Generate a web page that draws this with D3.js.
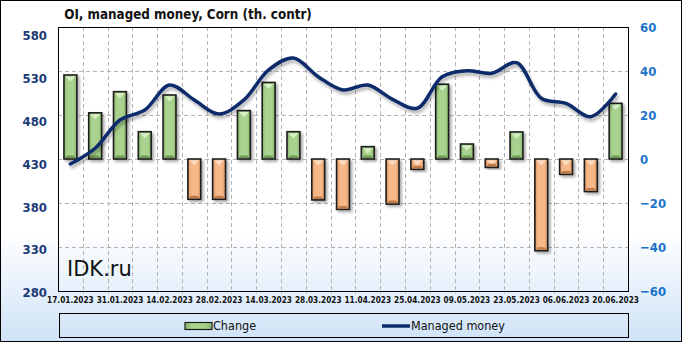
<!DOCTYPE html>
<html><head><meta charset="utf-8">
<script src="https://cdn.jsdelivr.net/npm/d3@7"></script>
<style>
html,body{margin:0;padding:0;background:#fff;}
svg{display:block;}
</style></head>
<body>
<script>
// ---- data ----
const dates = ["17.01.2023","24.01.2023","31.01.2023","07.02.2023","14.02.2023","21.02.2023","28.02.2023","07.03.2023","14.03.2023","21.03.2023","28.03.2023","04.04.2023","11.04.2023","18.04.2023","25.04.2023","02.05.2023","09.05.2023","16.05.2023","23.05.2023","30.05.2023","06.06.2023","13.06.2023","20.06.2023"];
const change = [38.2,21.0,30.6,12.4,29.1,-18.3,-18.3,22.0,34.8,12.4,-18.6,-22.9,5.6,-20.5,-4.7,34.0,6.8,-3.8,12.3,-41.7,-7.0,-14.8,25.3];
const managedMoney = [430.1,448.5,481.5,493.2,522.4,504.9,488.5,504.9,540,554,532.1,516.6,522.4,505.7,495.2,532.1,539.1,536.1,548.5,506.9,501,485.4,511.9];
const leftTicks = [280,330,380,430,480,530,580];
const rightTicks = [-60,-40,-20,0,20,40,60];
const title = "OI, managed money, Corn (th. contr)";
const seriesNames = ["Change","Managed money"];

const W = 682, H = 342;
const P = {l:58, r:628, t:27, b:291};
const FONT = "Tahoma, 'DejaVu Sans Condensed', 'DejaVu Sans', sans-serif";

const svg = d3.select("body").append("svg").attr("width",W).attr("height",H);
const defs = svg.append("defs");

const bg = defs.append("linearGradient").attr("id","bg").attr("x1",0).attr("y1",0).attr("x2",0).attr("y2",1);
bg.append("stop").attr("offset","0").attr("stop-color","#ffffff");
bg.append("stop").attr("offset","0.68").attr("stop-color","#ffffff");
bg.append("stop").attr("offset","1").attr("stop-color","#cfe3f7");

function hgrad(id, edge, mid){
  const g = defs.append("linearGradient").attr("id",id).attr("x1",0).attr("y1",0).attr("x2",1).attr("y2",0);
  g.append("stop").attr("offset","0").attr("stop-color",edge);
  g.append("stop").attr("offset","0.25").attr("stop-color",mid);
  g.append("stop").attr("offset","0.75").attr("stop-color",mid);
  g.append("stop").attr("offset","1").attr("stop-color",edge);
}
hgrad("gGreen","#86b46a","#a9d28f");
hgrad("gOrange","#d8925f","#f6b889");

const sh = defs.append("filter").attr("id","shadow").attr("x","-30%").attr("y","-30%").attr("width","160%").attr("height","160%");
sh.append("feDropShadow").attr("dx",2).attr("dy",2).attr("stdDeviation",1.6).attr("flood-color","#000").attr("flood-opacity",0.35);
const lsh = defs.append("filter").attr("id","lshadow").attr("x","-10%").attr("y","-30%").attr("width","120%").attr("height","160%");
lsh.append("feDropShadow").attr("dx",1.5).attr("dy",3).attr("stdDeviation",1.5).attr("flood-color","#000").attr("flood-opacity",0.3);

svg.append("rect").attr("x",0.5).attr("y",0.5).attr("width",W-1).attr("height",H-1)
  .attr("fill","url(#bg)").attr("stroke","#000").attr("stroke-width",1);

// scales
const x = d3.scaleBand().domain(dates).range([P.l,P.r]).padding(0);
const bw = x.bandwidth();
const cx = d => x(d)+bw/2;
const yR = d3.scaleLinear().domain([-60,60]).range([P.b,P.t]);
const yL = d3.scaleLinear().domain([280,580]).range([292.5,35.7]);

// grid
const grid = svg.append("g").attr("stroke","#b4b4b4").attr("stroke-dasharray","4,3").attr("stroke-width",1);
grid.selectAll("line.h").data(rightTicks.filter(t=>t>-60&&t<60)).join("line")
  .attr("x1",P.l).attr("x2",P.r).attr("y1",d=>Math.round(yR(d))+0.5).attr("y2",d=>Math.round(yR(d))+0.5);
grid.selectAll("line.v").data(dates.slice(1)).join("line")
  .attr("x1",d=>Math.round(x(d))+0.5).attr("x2",d=>Math.round(x(d))+0.5).attr("y1",P.t).attr("y2",P.b+3);

// IDK.ru
svg.append("text").attr("x",67).attr("y",276).attr("font-family","'DejaVu Sans', sans-serif")
  .attr("font-size",21).attr("fill","#111").text("IDK.ru");

// bars
const barW = bw*0.52;
const bars = svg.append("g").selectAll("g").data(dates.map((d,i)=>({d,v:change[i]}))).join("g");
bars.append("rect")
  .attr("x",d=>cx(d.d)-barW/2).attr("width",barW)
  .attr("y",d=>yR(Math.max(0,d.v))).attr("height",d=>Math.abs(yR(d.v)-yR(0)))
  .attr("fill",d=>d.v>=0?"url(#gGreen)":"url(#gOrange)")
  .attr("stroke","#1e1e1e").attr("stroke-width",1.6).attr("filter","url(#shadow)");
bars.append("path")
  .attr("d",d=>{
    const x0=cx(d.d)-barW/2+1.5, x1=cx(d.d)+barW/2-1.5, t=yR(Math.max(0,d.v))+1.5;
    const hh=Math.min(5,Math.abs(yR(d.v)-yR(0))/2);
    return `M${x0},${t}L${x1},${t}L${(x0+x1)/2},${t+hh}Z`;})
  .attr("fill",d=>d.v>=0?"#d8efc6":"#fbdcc2");
bars.append("path")
  .attr("d",d=>{
    const x0=cx(d.d)-barW/2+1, x1=cx(d.d)+barW/2-1, b=yR(Math.min(0,d.v))-1;
    const hh=Math.min(2.5,Math.abs(yR(d.v)-yR(0))/3);
    return `M${x0},${b}L${x1},${b}L${x1-2},${b-hh}L${x0+2},${b-hh}Z`;})
  .attr("fill",d=>d.v>=0?"#6f9a55":"#bf7a49");

// line
const line = d3.line().x((d,i)=>cx(dates[i])).y(d=>yL(d)).curve(d3.curveCatmullRom.alpha(0.5));
svg.append("path").datum(managedMoney).attr("d",line).attr("fill","none")
  .attr("stroke","#0b2a6a").attr("stroke-width",3.5).attr("stroke-linecap","round").attr("filter","url(#lshadow)");

// plot frame
svg.append("rect").attr("x",P.l+0.5).attr("y",P.t+0.5).attr("width",P.r-P.l).attr("height",P.b-P.t)
  .attr("fill","none").attr("stroke","#000").attr("stroke-width",1);

// axes
const la = svg.append("g").attr("transform",`translate(${P.l},0)`)
  .call(d3.axisLeft(yL).tickValues(leftTicks).tickSize(0).tickPadding(11).tickFormat(d3.format("d")));
la.select(".domain").remove();
la.selectAll("text").attr("font-family",FONT).attr("font-size",13).attr("font-weight","bold").attr("fill","#1c3a78");

const ra = svg.append("g").attr("transform",`translate(${P.r},0)`)
  .call(d3.axisRight(yR).tickValues(rightTicks).tickSize(0).tickPadding(12).tickFormat(d3.format("d")));
ra.select(".domain").remove();
ra.selectAll("text").attr("font-family",FONT).attr("font-size",13).attr("font-weight","bold").attr("fill","#1a73c8");

const xa = svg.append("g").attr("transform",`translate(0,${P.b})`)
  .call(d3.axisBottom(x).tickValues(dates.filter((d,i)=>i%2===0)).tickSize(0).tickPadding(6));
xa.select(".domain").remove();
xa.selectAll("text").attr("font-family",FONT).attr("font-size",8.2).attr("font-weight","bold").attr("fill","#111");

// title
svg.append("text").attr("x",188).attr("y",19).attr("text-anchor","middle")
  .attr("font-family",FONT).attr("font-size",13.3).attr("font-weight","bold").attr("fill","#111").text(title);

// legend
svg.append("rect").attr("x",59.5).attr("y",313.5).attr("width",569).attr("height",24)
  .attr("fill","none").attr("stroke","#000").attr("stroke-width",1);
svg.append("rect").attr("x",185).attr("y",322.5).attr("width",27).attr("height",7)
  .attr("fill","url(#gGreen)").attr("stroke","#1e1e1e").attr("stroke-width",1.2);
svg.append("text").attr("x",213).attr("y",330).attr("font-family",FONT).attr("font-size",12.5).attr("fill","#111").text(seriesNames[0]);
svg.append("line").attr("x1",382).attr("x2",410).attr("y1",326).attr("y2",326).attr("stroke","#0b2a6a").attr("stroke-width",3.5);
svg.append("text").attr("x",411).attr("y",330).attr("font-family",FONT).attr("font-size",12.5).attr("fill","#111").text(seriesNames[1]);
</script>
</body></html>
